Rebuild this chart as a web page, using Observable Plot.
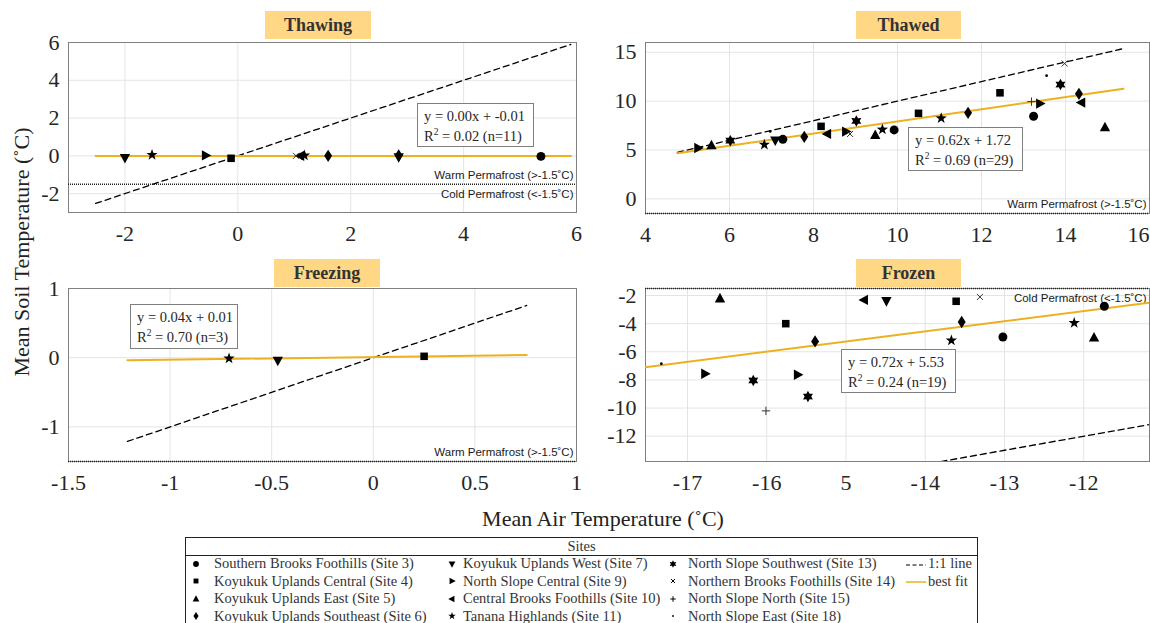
<!DOCTYPE html>
<html>
<head>
<meta charset="utf-8">
<script src="https://cdn.jsdelivr.net/npm/d3@7"></script>
<script src="https://cdn.jsdelivr.net/npm/@observablehq/plot@0.6"></script>
<style>
  html, body { margin: 0; padding: 0; background: #fff; }
  #root { position: relative; width: 1150px; height: 623px; overflow: hidden; font-family: "Liberation Serif", "Times New Roman", serif; color: #262626; }
  .panel { position: absolute; }
  .title { position: absolute; background: #FFD785; font-weight: bold; font-size: 18px; color: #333; text-align: center; box-sizing: border-box; }
  .eq { position: absolute; background: #fff; border: 1px solid #7f7f7f; font-size: 14.5px; color: #262626; box-sizing: border-box; padding: 2px 0 0 6px; line-height: 20px; white-space: nowrap; }
  .eq sup { font-size: 9.5px; line-height: 0; vertical-align: 6px; }
  .axtitle { position: absolute; font-size: 22px; color: #222; white-space: nowrap; transform: translate(-50%, -50%); }
  #legend { position: absolute; left: 185px; top: 537px; width: 793px; height: 100px; border: 1px solid #222; box-sizing: border-box; font-size: 14.5px; color: #333; }
  #legend .hdr { position: absolute; left: 0; right: 0; top: 0; height: 17px; border-bottom: 1px solid #222; text-align: center; line-height: 16px; }
  #legend .item { position: absolute; white-space: nowrap; line-height: 17px; }
  #legend svg { position: absolute; overflow: visible; }
</style>
</head>
<body>
<div id="root"></div>
<script>
// ---------------- Data ----------------
const siteIds = [3, 4, 5, 6, 7, 9, 10, 11, 13, 14, 15, 18];
const siteNames = [
  "Southern Brooks Foothills", "Koyukuk Uplands Central", "Koyukuk Uplands East",
  "Koyukuk Uplands Southeast", "Koyukuk Uplands West", "North Slope Central",
  "Central Brooks Foothills", "Tanana Highlands", "North Slope Southwest",
  "Northern Brooks Foothills", "North Slope North", "North Slope East"
];
const siteMarkers = ["circle", "square", "triUp", "diamond", "triDown", "triRight",
  "triLeft", "pentagram", "hexagram", "times", "plus", "point"];

const permafrostThreshold = -1.5;
const warmLabel = "Warm Permafrost (>-1.5˚C)";
const coldLabel = "Cold Permafrost (<-1.5˚C)";

// Thawing
const thawingSite = [7, 11, 9, 4, 14, 10, 11, 6, 6, 7, 3];
const thawingAir  = [-2.0, -1.52, -0.57, -0.12, 1.03, 1.11, 1.18, 1.60, 2.85, 2.85, 5.37];
const thawingSoil = [-0.10, 0.05, 0.02, -0.13, 0.0, 0.0, 0.02, 0.0, 0.02, -0.06, -0.03];
const thawingFit = { slope: 0.00, intercept: -0.01, x: [-2.52, 5.9] };
const thawingXTicks = [-2, 0, 2, 4, 6];
const thawingYTicks = [-2, 0, 2, 4, 6];

// Thawed
const thawedSite = [9, 5, 13, 11, 18, 7, 3, 6, 4, 10, 9, 14, 13, 5, 11, 3, 4, 11, 6, 4, 15, 3, 9, 18, 13, 14, 6, 10, 5];
const thawedAir  = [5.25, 5.57, 6.02, 6.83, 6.97, 7.09, 7.27, 7.78, 8.18, 8.33, 8.77, 8.87, 9.02, 9.47, 9.64, 9.92, 10.50, 11.04, 11.68, 12.44, 13.19, 13.24, 13.39, 13.55, 13.88, 13.98, 14.32, 14.38, 14.94];
const thawedSoil = [5.2, 5.45, 5.95, 5.55, 6.9, 6.0, 6.09, 6.35, 7.42, 6.64, 6.88, 6.64, 7.97, 6.5, 7.1, 7.05, 8.75, 8.25, 8.8, 10.85, 9.95, 8.45, 9.75, 12.6, 11.7, 13.85, 10.75, 9.85, 7.3];
const thawedFit = { slope: 0.62, intercept: 1.72, x: [4.76, 15.38] };
const thawedXTicks = [4, 6, 8, 10, 12, 14, 16];
const thawedYTicks = [0, 5, 10, 15];

// Freezing
const freezingSite = [11, 7, 4];
const freezingAir  = [-0.71, -0.47, 0.25];
const freezingSoil = [-0.01, -0.04, 0.02];
const freezingFit = { slope: 0.04, intercept: 0.01, x: [-1.21, 0.755] };
const freezingXTicks = [-1.5, -1, -0.5, 0, 0.5, 1];
const freezingYTicks = [-1, 0, 1];

// Frozen
const frozenSite = [18, 9, 5, 13, 15, 4, 9, 13, 6, 10, 7, 11, 4, 6, 14, 3, 11, 5, 3];
const frozenAir  = [-17.33, -16.78, -16.59, -16.17, -16.01, -15.76, -15.61, -15.48, -15.39, -14.77, -14.49, -13.67, -13.61, -13.54, -13.31, -13.02, -12.12, -11.87, -11.74];
const frozenSoil = [-6.85, -7.56, -2.22, -8.04, -10.2, -4.0, -7.63, -9.18, -5.26, -2.31, -2.38, -5.19, -2.41, -3.88, -2.1, -4.95, -3.95, -5.0, -2.76];
const frozenFit = { slope: 0.72, intercept: 5.53, x: [-17.53, -11.17] };
const frozenXTicks = [-17, -16, -15, -14, -13, -12];
const frozenXLabels = ["-17", "-16", "5", "-14", "-13", "-12"];
const frozenYTicks = [-12, -10, -8, -6, -4, -2];

// ---------------- Marker shapes ----------------
function poly(pts) {
  return { draw(ctx, size) {
    const s = Math.sqrt(size);
    ctx.moveTo(pts[0][0] * s, pts[0][1] * s);
    for (let i = 1; i < pts.length; i++) ctx.lineTo(pts[i][0] * s, pts[i][1] * s);
    ctx.closePath();
  }};
}
function starPts(n, ro, ri) {
  const out = [];
  for (let i = 0; i < 2 * n; i++) {
    const a = -Math.PI / 2 + i * Math.PI / n;
    const r = i % 2 ? ri : ro;
    out.push([r * Math.cos(a), r * Math.sin(a)]);
  }
  return out;
}
const symbols = {
  circle: { draw(ctx, size) { const r = 0.45 * Math.sqrt(size); ctx.moveTo(r, 0); ctx.arc(0, 0, r, 0, 2 * Math.PI); ctx.closePath(); } },
  square: poly([[-0.38, -0.38], [0.38, -0.38], [0.38, 0.38], [-0.38, 0.38]]),
  triUp: poly([[0, -0.58], [0.52, 0.38], [-0.52, 0.38]]),
  triDown: poly([[0, 0.58], [0.52, -0.38], [-0.52, -0.38]]),
  triRight: poly([[0.58, 0], [-0.38, -0.52], [-0.38, 0.52]]),
  triLeft: poly([[-0.58, 0], [0.38, -0.52], [0.38, 0.52]]),
  diamond: poly([[0, -0.62], [0.4, 0], [0, 0.62], [-0.4, 0]]),
  pentagram: poly(starPts(5, 0.6, 0.24)),
  hexagram: poly(starPts(6, 0.58, 0.33)),
  times: { draw(ctx, size) { const a = 0.3 * Math.sqrt(size); ctx.moveTo(-a, -a); ctx.lineTo(a, a); ctx.moveTo(a, -a); ctx.lineTo(-a, a); } },
  plus: { draw(ctx, size) { const a = 0.42 * Math.sqrt(size); ctx.moveTo(-a, 0); ctx.lineTo(a, 0); ctx.moveTo(0, -a); ctx.lineTo(0, a); } },
  point: { draw(ctx, size) { const r = 0.14 * Math.sqrt(size); ctx.moveTo(r, 0); ctx.arc(0, 0, r, 0, 2 * Math.PI); ctx.closePath(); } }
};
const strokeOnly = new Set(["times", "plus"]);

// ---------------- Panels ----------------
const root = document.getElementById("root");
const serif = "'Liberation Serif', 'Times New Roman', serif";
const sans = "'Liberation Sans', Arial, sans-serif";
const tickFontSize = 22;

function panel(cfg) {
  const rows = cfg.site.map((s, i) => ({ site: s, x: cfg.air[i], y: cfg.soil[i] }));
  const fitPts = cfg.fit.x.map(x => ({ x, y: cfg.fit.slope * x + cfg.fit.intercept }));
  const oneToOne = cfg.fit.x.map(x => ({ x, y: x }));
  const labelMarks = cfg.labels.map(l => Plot.text([l.text], {
    frameAnchor: "right", y: () => permafrostThreshold, text: d => d,
    textAnchor: "end", dx: -3, dy: l.dy, fontFamily: sans, fontSize: 11.5, fill: "#1a1a1a"
  }));
  const dotMarks = siteIds.map((id, k) => {
    const name = siteMarkers[k];
    const so = strokeOnly.has(name);
    return Plot.dot(rows.filter(r => r.site === id), {
      x: "x", y: "y", symbol: symbols[name], r: 5.6,
      fill: so ? "none" : "#000", stroke: so ? "#333" : "none", strokeWidth: 1
    });
  });
  const fmtX = cfg.xFormat || (d => String(d));
  const axisXTicks = cfg.edgeTick != null ? cfg.xTicks.filter(t => t !== cfg.edgeTick) : cfg.xTicks;
  const extra = cfg.edgeTick != null ? [
    Plot.text([cfg.edgeTick], { x: d => d, frameAnchor: "bottom", text: d => fmtX(d), textAnchor: "end",
      lineAnchor: "top", dy: 13, fontSize: tickFontSize, fontFamily: serif, fill: "#262626" })
  ] : [];
  const chart = Plot.plot({
    width: cfg.w, height: cfg.h,
    marginLeft: cfg.ml, marginRight: cfg.mr, marginTop: cfg.mt, marginBottom: cfg.mb,
    x: { domain: cfg.xDomain, label: null },
    y: { domain: cfg.yDomain, label: null },
    style: { "font-family": serif, "font-size": tickFontSize + "px", "color": "#262626", "background": "transparent", "overflow": "visible" },
    marks: [
      Plot.gridX({ ticks: cfg.xTicks, stroke: "#e4e4e4", strokeOpacity: 1 }),
      Plot.gridY({ ticks: cfg.yTicks, stroke: "#e4e4e4", strokeOpacity: 1 }),
      Plot.axisX({ ticks: axisXTicks, tickSize: 0, tickPadding: 13, label: null, tickFormat: fmtX,
        fontSize: tickFontSize, fontFamily: serif }),
      Plot.axisY({ ticks: cfg.yTicks, tickSize: 0, tickPadding: 9, label: null, tickFormat: d => String(d),
        fontSize: tickFontSize, fontFamily: serif }),
      ...extra,
      Plot.frame({ stroke: "#808080", strokeWidth: 1 }),
      Plot.ruleY([permafrostThreshold], { stroke: "#222", strokeWidth: 1.5, strokeDasharray: "1 1" }),
      ...labelMarks,
      Plot.line(oneToOne, { x: "x", y: "y", stroke: "#000", strokeWidth: 1.3, strokeDasharray: "6 4", clip: true }),
      Plot.line(fitPts, { x: "x", y: "y", stroke: "#EDB120", strokeWidth: 2, clip: true }),
      ...dotMarks
    ]
  });
  const wrap = document.createElement("div");
  wrap.className = "panel";
  wrap.style.left = cfg.left + "px";
  wrap.style.top = cfg.top + "px";
  wrap.appendChild(chart);
  root.appendChild(wrap);
  // force faces with inline styles: serif ticks, sans permafrost notes
  wrap.querySelectorAll("text").forEach(t => {
    if (/Permafrost/.test(t.textContent)) {
      t.style.setProperty("font-family", sans);
      t.style.setProperty("font-size", "11.5px");
    } else {
      t.style.setProperty("font-family", serif);
      t.style.setProperty("font-size", tickFontSize + "px");
      t.style.setProperty("fill", "#262626");
    }
  });
}

panel({
  left: 0, top: 0, w: 600, h: 260, ml: 68, mr: 24, mt: 42, mb: 48,
  xDomain: [-3, 6], yDomain: [-3, 6], xTicks: thawingXTicks, yTicks: thawingYTicks,
  site: thawingSite, air: thawingAir, soil: thawingSoil, fit: thawingFit,
  labels: [{ text: warmLabel, dy: -9 }, { text: coldLabel, dy: 10 }]
});
panel({
  left: 580, top: 0, w: 570, h: 260, ml: 65, mr: 1, mt: 42, mb: 47,
  xDomain: [4, 16], yDomain: [-1.5, 16], xTicks: thawedXTicks, yTicks: thawedYTicks, edgeTick: 16,
  site: thawedSite, air: thawedAir, soil: thawedSoil, fit: thawedFit,
  labels: [{ text: warmLabel, dy: -9 }]
});
panel({
  left: 0, top: 250, w: 600, h: 250, ml: 68, mr: 24, mt: 38, mb: 39,
  xDomain: [-1.5, 1], yDomain: [-1.5, 1], xTicks: freezingXTicks, yTicks: freezingYTicks,
  site: freezingSite, air: freezingAir, soil: freezingSoil, fit: freezingFit,
  labels: [{ text: warmLabel, dy: -9 }]
});
panel({
  left: 580, top: 250, w: 570, h: 250, ml: 65, mr: 1, mt: 38, mb: 39,
  xDomain: [-17.53, -11.17], yDomain: [-13.8, -1.5], xTicks: frozenXTicks, yTicks: frozenYTicks,
  xFormat: d => frozenXLabels[frozenXTicks.indexOf(d)],
  site: frozenSite, air: frozenAir, soil: frozenSoil, fit: frozenFit,
  labels: [{ text: coldLabel, dy: 10 }]
});

// ---------------- Titles & equation boxes ----------------
function addDiv(cls, html, l, t, w, h) {
  const d = document.createElement("div");
  d.className = cls; d.innerHTML = html;
  d.style.left = l + "px"; d.style.top = t + "px";
  if (w) d.style.width = w + "px";
  if (h) { d.style.height = h + "px"; if (cls === "title") d.style.lineHeight = h + "px"; }
  root.appendChild(d);
  return d;
}
addDiv("title", "Thawing", 265, 11, 106, 28);
addDiv("title", "Thawed", 856, 11, 105, 28);
addDiv("title", "Freezing", 274, 259, 106, 28);
addDiv("title", "Frozen", 856, 259, 105, 28);

addDiv("eq", "y = 0.00x + -0.01<br>R<sup>2</sup> = 0.02 (n=11)", 417, 103, 117, 44);
addDiv("eq", "y = 0.62x + 1.72<br>R<sup>2</sup> = 0.69 (n=29)", 908, 127, 115, 44);
addDiv("eq", "y = 0.04x + 0.01<br>R<sup>2</sup> = 0.70 (n=3)", 130, 304, 108, 45);
addDiv("eq", "y = 0.72x + 5.53<br>R<sup>2</sup> = 0.24 (n=19)", 841, 349, 115, 44);

addDiv("axtitle", "Mean Air Temperature (˚C)", 603, 519);
const yt = addDiv("axtitle", "Mean Soil Temperature (˚C)", 22, 252);
yt.style.transform = "translate(-50%, -50%) rotate(-90deg)";

// ---------------- Legend ----------------
const legend = document.createElement("div");
legend.id = "legend";
legend.innerHTML = '<div class="hdr">Sites</div>';
root.appendChild(legend);
const colMarkerX = [10, 266, 487];
const colTextX = [28, 277, 502];
const rowCenterY = [25.5, 43, 60.5, 78];
const svgNS = "http://www.w3.org/2000/svg";
siteIds.forEach((id, i) => {
  const c = Math.floor(i / 4), r = i % 4;
  const name = siteMarkers[i];
  const p = d3.path();
  symbols[name].draw(p, 42);
  const svg = document.createElementNS(svgNS, "svg");
  svg.setAttribute("width", 1); svg.setAttribute("height", 1);
  svg.style.left = colMarkerX[c] + "px"; svg.style.top = rowCenterY[r] + "px";
  const path = document.createElementNS(svgNS, "path");
  path.setAttribute("d", p.toString());
  if (strokeOnly.has(name)) { path.setAttribute("fill", "none"); path.setAttribute("stroke", "#000"); path.setAttribute("stroke-width", "1"); }
  else path.setAttribute("fill", "#000");
  svg.appendChild(path);
  legend.appendChild(svg);
  const t = document.createElement("div");
  t.className = "item";
  t.textContent = `${siteNames[i]} (Site ${id})`;
  t.style.left = colTextX[c] + "px";
  t.style.top = (rowCenterY[r] - 8.5) + "px";
  legend.appendChild(t);
});
function lineEntry(row, stroke, dash, label, width) {
  const svg = document.createElementNS(svgNS, "svg");
  svg.setAttribute("width", 20); svg.setAttribute("height", 2);
  svg.style.left = "720px"; svg.style.top = (rowCenterY[row] + 1) + "px";
  const ln = document.createElementNS(svgNS, "line");
  ln.setAttribute("x1", 0); ln.setAttribute("x2", 20); ln.setAttribute("y1", 0); ln.setAttribute("y2", 0);
  ln.setAttribute("stroke", stroke); ln.setAttribute("stroke-width", width);
  if (dash) ln.setAttribute("stroke-dasharray", dash);
  svg.appendChild(ln);
  legend.appendChild(svg);
  const t = document.createElement("div");
  t.className = "item"; t.textContent = label;
  t.style.left = "742px"; t.style.top = (rowCenterY[row] - 8.5) + "px";
  legend.appendChild(t);
}
lineEntry(0, "#000", "4 2.5", "1:1 line", 1.2);
lineEntry(1, "#EDB120", null, "best fit", 1.5);
</script>
</body>
</html>
